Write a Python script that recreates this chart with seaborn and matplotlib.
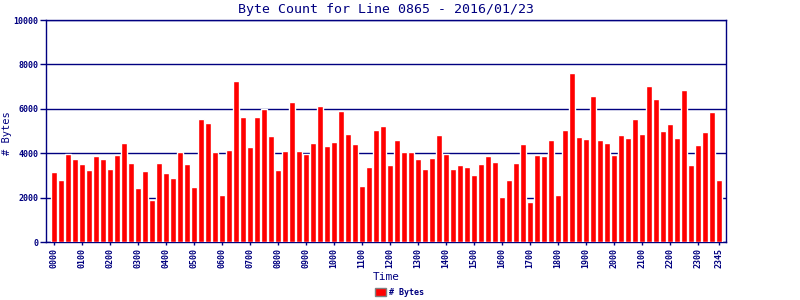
import matplotlib
matplotlib.use("Agg")
import matplotlib.pyplot as plt
from matplotlib.patches import Patch
import seaborn as sns
import pandas as pd

times = [f"{h:02d}{m:02d}" for h in range(24) for m in (0, 15, 30, 45)]
byte_counts = [
    3150, 2790, 3990, 3740, 3510, 3240, 3870, 3740, 3290, 3920, 4460, 3560,
    2430, 3200, 1890, 3560, 3110, 2880, 4050, 3510, 2480, 5540, 5360, 4050,
    2120, 4140, 7250, 5630, 4280, 5630, 5990, 4780, 3240, 4100, 6310, 4100,
    3990, 4460, 6130, 4320, 4500, 5900, 4870, 4410, 2520, 3380, 5050, 5230,
    3470, 4600, 4050, 4050, 3740, 3290, 3780, 4820, 3990, 3290, 3470, 3380,
    3020, 3510, 3870, 3600, 2030, 2790, 3560, 4410, 1800, 3920, 3870, 4600,
    2120, 5050, 7610, 4730, 4640, 6580, 4600, 4460, 3920, 4820, 4690, 5540,
    4870, 7030, 6440, 5000, 5320, 4690, 6850, 3470, 4370, 4960, 5860, 2790,
]
tick_labels = [f"{h:02d}00" for h in range(24)] + ["2345"]
tick_idx = [times.index(t) for t in tick_labels]
y_ticks = [0, 2000, 4000, 6000, 8000, 10000]

navy = "#000080"
df = pd.DataFrame({"Time": times, "Bytes": byte_counts})

sns.set_style("white")
plt.rcParams["font.family"] = ["DejaVu Sans Mono", "DejaVu Sans"]

fig = plt.figure(figsize=(8, 3), dpi=100)
ax = fig.add_axes([0.058, 0.193, 0.849, 0.74])
ax.set_axisbelow(True)
sns.barplot(data=df, x="Time", y="Bytes", color="#ff0000", saturation=1,
            width=0.88, ax=ax, zorder=3)
ax.set_xlim(-1.04, 95.9)
ax.set_ylim(0, 10000)
ax.set_yticks(y_ticks)
ax.set_yticklabels([str(v) for v in y_ticks], fontsize=6, color=navy, fontweight="bold")
ax.set_xticks(tick_idx)
ax.set_xticklabels(tick_labels, rotation=90, fontsize=6, color=navy, fontweight="bold")
ax.yaxis.grid(True, color=navy, linewidth=1, zorder=0)
ax.tick_params(axis="y", length=4, color=navy, width=1, direction="out", left=True, pad=2)
ax.tick_params(axis="x", length=2, color=navy, width=1, direction="out", bottom=True, pad=2)
for s in ax.spines.values():
    s.set_color(navy)
    s.set_linewidth(1)
ax.set_xlabel("Time", fontsize=8, color=navy, labelpad=3)
ax.set_ylabel("# Bytes", fontsize=7.5, color=navy)
ax.yaxis.label.set_verticalalignment("center")
ax.yaxis.set_label_coords(-0.058, 0.49)
ax.set_title("Byte Count for Line 0865 - 2016/01/23", fontsize=9.5, color=navy, pad=5)

handles = [Patch(facecolor="#ff0000", edgecolor="#808080", label="# Bytes")]
fig.legend(handles=handles, loc="lower center", bbox_to_anchor=(0.499, -0.015),
           frameon=False, prop={"size": 6, "weight": "bold"}, handlelength=1.4,
           handleheight=1.0, handletextpad=0.3, labelcolor=navy)

fig.savefig("out.png", dpi=100, facecolor="white")
